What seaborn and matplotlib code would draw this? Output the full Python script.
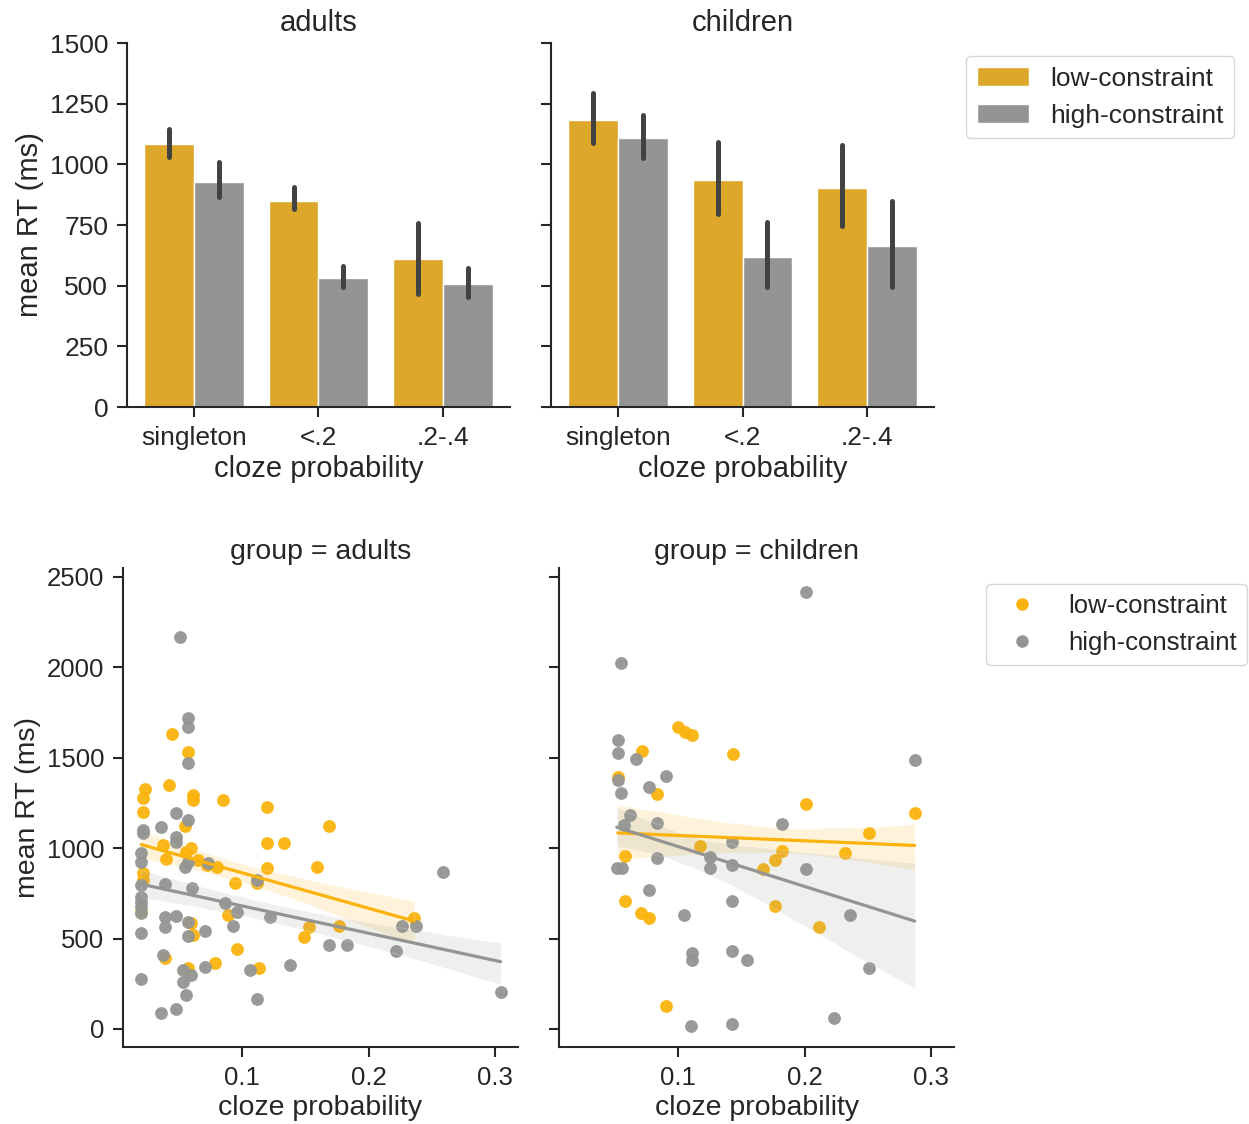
import numpy as np
import pandas as pd
import matplotlib
matplotlib.use("Agg")
import matplotlib.pyplot as plt
import seaborn as sns

sns.set_theme(style="ticks")
plt.rcParams['font.family'] = ['Liberation Sans', 'DejaVu Sans']

# ---- bar data (means and CI bounds) ----
bins = ["singleton", "<.2", ".2-.4"]
conds = ["low-constraint", "high-constraint"]
groups = ["adults", "children"]

adult_low_mean = [1082, 850, 608]
adult_low_lo = [1031, 815, 466]
adult_low_hi = [1145, 908, 757]
adult_high_mean = [928, 530, 507]
adult_high_lo = [864, 493, 454]
adult_high_hi = [1010, 581, 574]

child_low_mean = [1183, 936, 902]
child_low_lo = [1087, 796, 745]
child_low_hi = [1295, 1093, 1081]
child_high_mean = [1107, 619, 665]
child_high_lo = [1025, 496, 496]
child_high_hi = [1202, 761, 848]

# ---- scatter data ----
adult_low_x = [0.0447, 0.0574, 0.042, 0.0235, 0.0217, 0.0609, 0.0609, 0.0852, 0.1196, 0.0217,
               0.0548, 0.0376, 0.1196, 0.1333, 0.0402, 0.06, 0.056, 0.0653, 0.072, 0.0799,
               0.1196, 0.159, 0.0217, 0.0217, 0.0944, 0.1117, 0.0204, 0.0892, 0.06, 0.0614,
               0.153, 0.149, 0.0958, 0.0389, 0.0786, 0.0574, 0.113, 0.1685, 0.236, 0.1765]
adult_low_y = [1632, 1530, 1350, 1326, 1276, 1294, 1267, 1267, 1230, 1202,
               1123, 1018, 1027, 1027, 939, 999, 981, 935, 907, 898,
               889, 898, 861, 824, 809, 806, 649, 630, 585, 520,
               566, 510, 441, 391, 367, 336, 336, 1125, 612, 571]

adult_high_x = [0.0508, 0.0574, 0.0574, 0.0574, 0.0482, 0.0574, 0.0363, 0.0217, 0.0217, 0.048,
                0.048, 0.0204, 0.0204, 0.0574, 0.0548, 0.0733, 0.1117, 0.0204, 0.0389, 0.0601,
                0.0204, 0.0204, 0.0204, 0.0204, 0.0865, 0.0958, 0.1222, 0.039, 0.039, 0.048,
                0.0574, 0.0931, 0.0706, 0.0204, 0.0574, 0.0376, 0.138, 0.0706, 0.106, 0.053,
                0.06, 0.053, 0.0204, 0.056, 0.1117, 0.0363, 0.048, 0.2585, 0.2267, 0.2373,
                0.1685, 0.1825, 0.2214, 0.3042]
adult_high_y = [2170, 1718, 1669, 1471, 1196, 1156, 1116, 1101, 1082, 1064,
                1036, 972, 925, 925, 898, 916, 824, 796, 802, 778,
                732, 704, 676, 640, 695, 649, 621, 621, 566, 625,
                594, 571, 542, 529, 514, 409, 354, 345, 326, 326,
                299, 262, 275, 188, 164, 90, 109, 867, 570, 570,
                465, 465, 433, 206]

child_low_x = [0.0712, 0.1, 0.1054, 0.1107, 0.143, 0.0524, 0.083, 0.1175, 0.0578, 0.0578,
               0.0704, 0.0772, 0.0901, 0.2008, 0.2869, 0.2506, 0.182, 0.2317, 0.1766, 0.1672,
               0.1766, 0.211]
child_low_y = [1539, 1672, 1644, 1626, 1519, 1395, 1300, 1012, 957, 710,
               643, 612, 127, 1243, 1193, 1086, 986, 975, 935, 887,
               680, 562]

child_high_x = [0.0551, 0.0524, 0.0524, 0.0669, 0.0906, 0.0524, 0.0772, 0.0551, 0.0624, 0.057,
                0.083, 0.1425, 0.083, 0.125, 0.0516, 0.0556, 0.125, 0.1425, 0.0772, 0.1425,
                0.1048, 0.1107, 0.1107, 0.1425, 0.1543, 0.1102, 0.1425, 0.2008, 0.2869, 0.182,
                0.2008, 0.2357, 0.2506, 0.2228]
child_high_y = [2022, 1598, 1528, 1492, 1401, 1377, 1340, 1304, 1184, 1128,
                1141, 1036, 948, 950, 889, 889, 889, 907, 769, 710,
                630, 422, 382, 433, 382, 17, 28, 2419, 1488, 1134,
                887, 630, 336, 59]

colors = ["#FBB30C", "#949592"]

bars = {
    "adults": [(adult_low_mean, adult_low_lo, adult_low_hi),
               (adult_high_mean, adult_high_lo, adult_high_hi)],
    "children": [(child_low_mean, child_low_lo, child_low_hi),
                 (child_high_mean, child_high_lo, child_high_hi)],
}
points = {
    "adults": [(adult_low_x, adult_low_y), (adult_high_x, adult_high_y)],
    "children": [(child_low_x, child_low_y), (child_high_x, child_high_y)],
}

fig = plt.figure(figsize=(12.49, 11.24), dpi=100)
ax_tl = fig.add_axes([0.1017, 0.6379, 0.3066, 0.3238])
ax_tr = fig.add_axes([0.4412, 0.6379, 0.3066, 0.3238])
ax_bl = fig.add_axes([0.0985, 0.0685, 0.3163, 0.4262])
ax_br = fig.add_axes([0.4476, 0.0685, 0.3163, 0.4262])

# top: bar charts
for ax, g in zip([ax_tl, ax_tr], groups):
    rows = []
    for c, (m, lo, hi) in zip(conds, bars[g]):
        for b, v in zip(bins, m):
            rows.append({"bin": b, "cond": c, "rt": v})
    df = pd.DataFrame(rows)
    sns.barplot(data=df, x="bin", y="rt", hue="cond", order=bins, hue_order=conds,
                palette=colors, errorbar=None, legend=False, ax=ax)
    for cont, (m, lo, hi) in zip(ax.containers, bars[g]):
        for p, l, h in zip(cont.patches, lo, hi):
            xc = p.get_x() + p.get_width() / 2
            ax.plot([xc, xc], [l, h], color=".26", lw=3.6, solid_capstyle="round")
    ax.set_ylim(0, 1500)
    ax.set_yticks([0, 250, 500, 750, 1000, 1250, 1500])
    ax.set_title(g, fontsize=21, pad=9)
    ax.set_xlabel("cloze probability", fontsize=21)
    ax.set_ylabel("")
    ax.tick_params(labelsize=19, length=7, width=1.5, pad=6.5)
    for s in ax.spines.values():
        s.set_linewidth(1.5)
    sns.despine(ax=ax)

ax_tl.set_ylabel("mean RT (ms)", fontsize=21)
ax_tr.tick_params(labelleft=False)

fig.legend(handles=[c.patches[0] for c in ax_tl.containers], labels=conds,
           loc="upper left", bbox_to_anchor=(0.7734, 0.9502), fontsize=19,
           frameon=True, borderaxespad=0)

# bottom: scatter + regression
for ax, g in zip([ax_bl, ax_br], groups):
    for col, (xs, ys) in zip(colors, points[g]):
        sns.regplot(x=np.array(xs), y=np.array(ys), color=col, ax=ax, ci=68, seed=0,
                    scatter_kws={"s": 85, "alpha": 0.95, "linewidths": 0},
                    line_kws={"lw": 2.3})
    ax.set_xlim(0.006, 0.318)
    ax.set_ylim(-100, 2550)
    ax.set_xticks([0.1, 0.2, 0.3])
    ax.set_yticks([0, 500, 1000, 1500, 2000, 2500])
    ax.set_title("group = " + g, fontsize=20.5, pad=6.5)
    ax.set_xlabel("cloze probability", fontsize=20.5)
    ax.set_ylabel("")
    ax.tick_params(labelsize=18.5, length=7, width=1.5, pad=6.5)
    for s in ax.spines.values():
        s.set_linewidth(1.5)
    sns.despine(ax=ax)

ax_bl.set_ylabel("mean RT (ms)", fontsize=20.5)
ax_br.tick_params(labelleft=False)

dots = [plt.Line2D([], [], marker="o", ls="", color=c, markersize=8) for c in colors]
fig.legend(handles=dots, labels=conds, loc="upper left", bbox_to_anchor=(0.7894, 0.4804),
           fontsize=18.5, frameon=True, borderaxespad=0)

fig.savefig("out.png", dpi=100)
